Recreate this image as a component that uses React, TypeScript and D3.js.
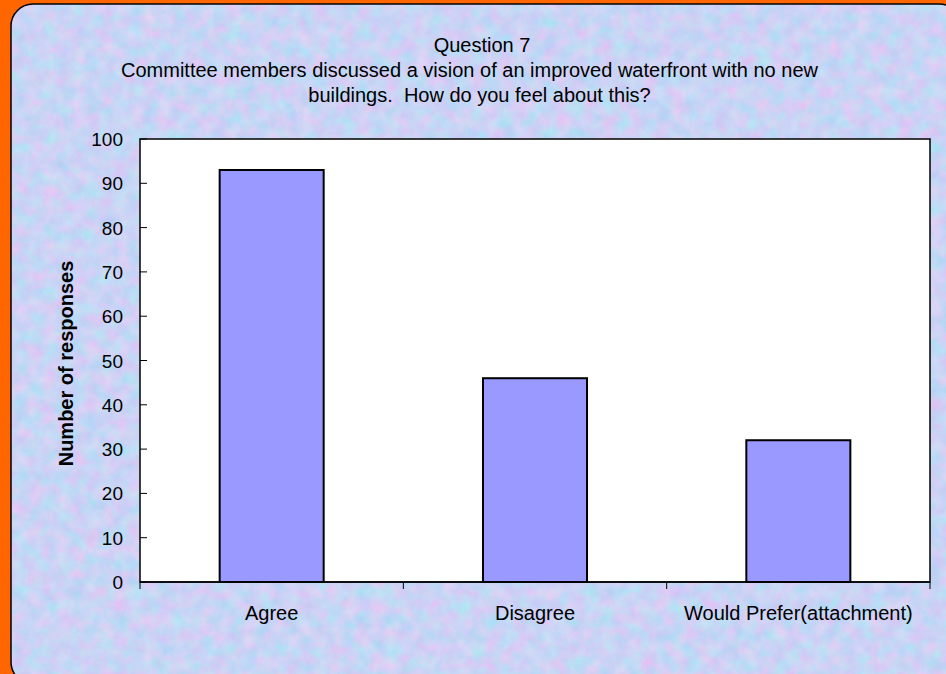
import React from "react";
import * as d3 from "d3";

const categories = ["Agree", "Disagree", "Would Prefer(attachment)"];
const values = [93, 46, 32];
const yTicks = [0, 10, 20, 30, 40, 50, 60, 70, 80, 90, 100];
const titleLines = [
  "Question 7",
  "Committee members discussed a vision of an improved waterfront with no new",
  "buildings.  How do you feel about this?",
];
const yAxisTitle = "Number of responses";

const W = 946;
const H = 674;
const plot = { left: 140, top: 139, right: 930, bottom: 582 };
const font = "'Liberation Sans', Arial, sans-serif";

export default function App() {
  const x = d3
    .scaleBand<string>()
    .domain(categories)
    .range([plot.left, plot.right])
    .paddingInner(0)
    .paddingOuter(0);
  const y = d3.scaleLinear().domain([0, 100]).range([plot.bottom, plot.top]);
  const bw = x.bandwidth() * 0.395;
  const bounds = [...categories.map((c) => x(c) as number), plot.right];
  const titleX = [482, 469.5, 479.5];

  return (
    <svg
      width={W}
      height={H}
      style={{ position: "absolute", left: 0, top: 0, display: "block" }}
    >
      <defs>
        <filter id="tex" x="0" y="0" width="100%" height="100%" colorInterpolationFilters="sRGB">
          <feTurbulence type="fractalNoise" baseFrequency="0.07" numOctaves="4" seed="7" result="n" />
          <feColorMatrix
            in="n"
            type="matrix"
            values="0.3 0 0 0 0.64  -0.1 0.12 0 0 0.82  0 0 0.04 0 0.94  0 0 0 0 1"
          />
        </filter>
        <clipPath id="panelClip">
          <rect x={11} y={4} width={950} height={680} rx={22} ry={22} />
        </clipPath>
      </defs>
      <rect x={0} y={0} width={W} height={H} fill="#FF6600" />
      <rect x={11} y={4} width={950} height={680} fill="#C8D4F2" clipPath="url(#panelClip)" />
      <rect x={11} y={4} width={950} height={680} filter="url(#tex)" clipPath="url(#panelClip)" />
      <rect x={11} y={4} width={950} height={680} rx={22} ry={22} fill="none" stroke="#000" strokeWidth={1.5} />

      {titleLines.map((t, i) => (
        <text
          key={i}
          x={titleX[i]}
          y={52 + i * 25}
          textAnchor="middle"
          fontFamily={font}
          fontSize={20}
          fill="#000"
          style={{ whiteSpace: "pre" }}
        >
          {t}
        </text>
      ))}

      <rect
        x={plot.left}
        y={plot.top}
        width={plot.right - plot.left}
        height={plot.bottom - plot.top}
        fill="#fff"
        stroke="#000"
        strokeWidth={1.5}
      />

      {categories.map((c, i) => (
        <rect
          key={c}
          x={(x(c) as number) + (x.bandwidth() - bw) / 2}
          y={y(values[i])}
          width={bw}
          height={plot.bottom - y(values[i])}
          fill="#9999FF"
          stroke="#000"
          strokeWidth={2}
        />
      ))}

      {yTicks.map((t) => (
        <g key={t}>
          <line x1={plot.left} x2={plot.left + 7} y1={y(t)} y2={y(t)} stroke="#000" strokeWidth={1} />
          <text
            x={123}
            y={y(t) + 7}
            textAnchor="end"
            fontFamily={font}
            fontSize={19}
            fill="#000"
          >
            {t}
          </text>
        </g>
      ))}
      <line x1={plot.left} x2={plot.right} y1={plot.bottom} y2={plot.bottom} stroke="#000" strokeWidth={1.5} />
      {bounds.map((b, i) => (
        <line key={i} x1={b} x2={b} y1={plot.bottom} y2={plot.bottom + 7} stroke="#000" strokeWidth={1} />
      ))}
      {categories.map((c) => (
        <text
          key={c}
          x={(x(c) as number) + x.bandwidth() / 2}
          y={620}
          textAnchor="middle"
          fontFamily={font}
          fontSize={20}
          fill="#000"
        >
          {c}
        </text>
      ))}
      <text
        transform={`translate(73,${(plot.top + plot.bottom) / 2 + 3}) rotate(-90)`}
        textAnchor="middle"
        fontFamily={font}
        fontSize={20}
        fontWeight="bold"
        fill="#000"
      >
        {yAxisTitle}
      </text>
    </svg>
  );
}
